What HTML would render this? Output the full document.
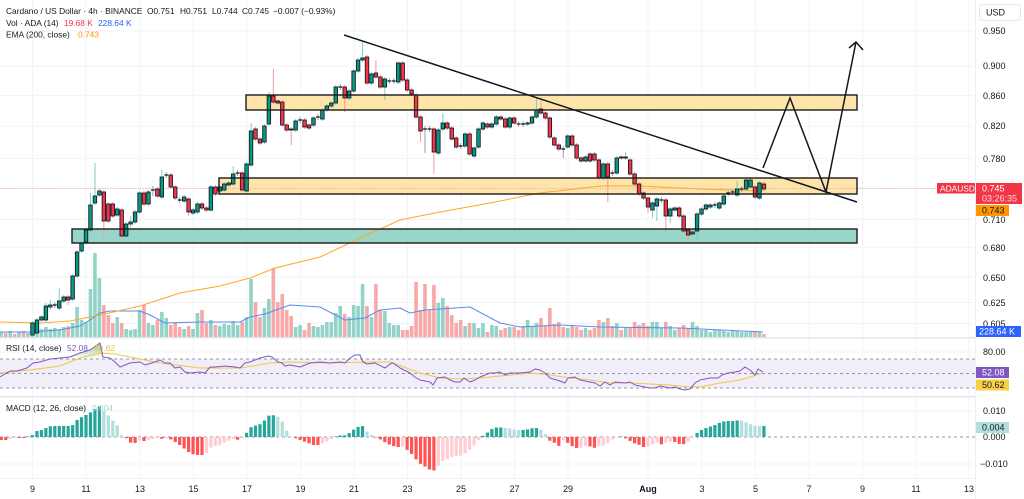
<!DOCTYPE html>
<html><head><meta charset="utf-8">
<style>
html,body{margin:0;padding:0;background:#fff;}
svg{display:block;font-family:"Liberation Sans",sans-serif;}
</style></head>
<body>
<svg id="s" width="1024" height="499" viewBox="0 0 1024 499" xmlns="http://www.w3.org/2000/svg">
<defs>
<clipPath id="cm"><rect x="0" y="0" width="975" height="337"/></clipPath>
<clipPath id="cr"><rect x="0" y="338" width="975" height="58"/></clipPath>
<clipPath id="cd"><rect x="0" y="397" width="975" height="81"/></clipPath>
<linearGradient id="ob" gradientUnits="userSpaceOnUse" x1="0" y1="343" x2="0" y2="359"><stop offset="0" stop-color="#4caf50" stop-opacity="0.6"/><stop offset="1" stop-color="#4caf50" stop-opacity="0"/></linearGradient>
</defs>
<rect x="0" y="0" width="1024" height="499" fill="#fff"/>
<g id="grid"></g>
<!-- box fills -->
<rect x="246" y="95" width="611" height="15" fill="#fde4a9"/>
<rect x="219" y="178" width="638" height="16" fill="#fde4a9"/>
<rect x="72" y="229" width="785" height="14" fill="#99d6ca"/>
<g id="vol" clip-path="url(#cm)"></g>
<g id="lines" clip-path="url(#cm)"></g>
<line x1="0" y1="188.5" x2="936" y2="188.5" stroke="#f4a0a7" stroke-width="1" stroke-dasharray="1 1.5"/>
<g id="cdl" clip-path="url(#cm)"></g>
<!-- box borders -->
<g fill="none" stroke="#1b1b1b" stroke-width="1.4">
<rect x="246" y="95" width="611" height="15"/>
<rect x="219" y="178" width="638" height="16"/>
<rect x="72" y="229" width="785" height="14"/>
</g>
<!-- trendline + projection -->
<g fill="none" stroke="#131722" stroke-width="1.5" stroke-linejoin="miter">
<line x1="344" y1="35" x2="857" y2="202"/>
<polyline points="763,168 790,98 826,192 856,42"/>
<polyline points="849,48 856,42 863,50"/>
</g>
<!-- RSI pane -->
<rect x="0" y="359" width="975" height="29" fill="#f1edf9"/>
<g id="rsi" clip-path="url(#cr)"></g>
<!-- MACD pane -->
<g id="macd" clip-path="url(#cd)"></g>
<!-- separators -->
<rect x="0" y="337" width="1024" height="1.5" fill="#e3e6ec"/>
<rect x="0" y="396" width="1024" height="1.5" fill="#e3e6ec"/>
<line x1="0" y1="478.5" x2="1024" y2="478.5" stroke="#eef0f4"/>
<rect x="975" y="0" width="49" height="499" fill="#fff"/>
<line x1="975.5" y1="0" x2="975.5" y2="499" stroke="#eef0f4"/>

<!-- header -->
<g font-size="8.4" fill="#131722">
<text x="6" y="14">Cardano / US Dollar · 4h · BINANCE</text>
<text x="147" y="14">O0.751</text>
<text x="180" y="14">H0.751</text>
<text x="212" y="14">L0.744</text>
<text x="242" y="14">C0.745</text>
<text x="273" y="14">−0.007 (−0.93%)</text>
<text x="6" y="26">Vol · ADA (14)</text>
<text x="64" y="26" fill="#f23645">19.68 K</text>
<text x="98" y="26" fill="#2962ff">228.64 K</text>
<text x="6" y="37.5">EMA (200, close)</text>
<text x="78" y="37.5" fill="#ff9800">0.743</text>
<text x="6" y="351">RSI (14, close)</text>
<text x="67" y="351" fill="#7e57c2">52.08</text>
<text x="94" y="351" fill="#e9c23a">50.62</text>
<text x="6" y="411">MACD (12, 26, close)</text>
<text x="92" y="411" fill="#9fd6cd">0.004</text>
</g>

<!-- right axis -->
<rect x="979.5" y="4.5" width="41" height="16" rx="3" fill="#fff" stroke="#e6e8ee"/>
<g font-size="9" fill="#131722">
<text x="986" y="15.5">USD</text>
<text x="983" y="34">0.950</text>
<text x="983" y="69">0.900</text>
<text x="983" y="99">0.860</text>
<text x="983" y="129">0.820</text>
<text x="983" y="162">0.780</text>
<text x="983" y="223">0.710</text>
<text x="983" y="251">0.680</text>
<text x="983" y="281">0.650</text>
<text x="983" y="306">0.625</text>
<text x="983" y="327">0.605</text>
<text x="983" y="355">80.00</text>
<text x="983" y="414">0.010</text>
<text x="983" y="440">0.000</text>
<text x="980" y="467">−0.010</text>
</g>
<rect x="937" y="183" width="38" height="10.5" fill="#f23645"/>
<text x="940" y="191.5" font-size="8.4" fill="#fff">ADAUSD</text>
<rect x="976" y="183" width="46" height="21" fill="#f23645"/>
<text x="982" y="191.5" font-size="9" fill="#fff">0.745</text>
<text x="982" y="201.5" font-size="9" fill="#ffd6da">03:26:35</text>
<rect x="976" y="205" width="33" height="11" fill="#ff9800"/>
<text x="982" y="213.5" font-size="9" fill="#131722">0.743</text>
<rect x="976" y="326" width="45" height="11" fill="#2962ff"/>
<text x="979" y="334.5" font-size="9" fill="#fff">228.64 K</text>
<rect x="976" y="367" width="33" height="11" fill="#7e57c2"/>
<text x="982" y="375.5" font-size="9" fill="#fff">52.08</text>
<rect x="976" y="379.5" width="33" height="11" fill="#f7d046"/>
<text x="982" y="388" font-size="9" fill="#131722">50.62</text>
<rect x="976" y="422" width="33" height="11" fill="#b2dfdb"/>
<text x="982" y="430.5" font-size="9" fill="#131722">0.004</text>

<!-- time axis -->
<g font-size="9" fill="#131722" text-anchor="middle">
<text x="32.5" y="492">9</text>
<text x="86" y="492">11</text>
<text x="140" y="492">13</text>
<text x="193.5" y="492">15</text>
<text x="247" y="492">17</text>
<text x="300.5" y="492">19</text>
<text x="354" y="492">21</text>
<text x="407.5" y="492">23</text>
<text x="461" y="492">25</text>
<text x="514.5" y="492">27</text>
<text x="568" y="492">29</text>
<text x="648" y="492" font-weight="bold">Aug</text>
<text x="702" y="492">3</text>
<text x="755.5" y="492">5</text>
<text x="809" y="492">7</text>
<text x="862.5" y="492">9</text>
<text x="916" y="492">11</text>
<text x="969" y="492">13</text>
</g>
</svg>
<script>
(function(){
var NS='http://www.w3.org/2000/svg';
function el(p,t,a){var e=document.createElementNS(NS,t);for(var k in a)e.setAttribute(k,a[k]);p.appendChild(e);return e;}
function $(id){return document.getElementById(id);}
var X0=32.5,DX=4.46;
function xi(i){return X0+i*DX;}

// grid
var g=$('grid');
var vx=[32.5,86,140,193.5,247,300.5,354,407.5,461,514.5,568,648,702,755.5,809,862.5,916,969];
vx.forEach(function(x){el(g,'line',{x1:x,y1:0,x2:x,y2:478,stroke:'#f1f3f7','stroke-width':1});});
[31,66,95.4,126.2,158.6,188.3,219.4,247.3,277,302.5,323.5,352,411,464].forEach(function(y){el(g,'line',{x1:0,y1:y,x2:975,y2:y,stroke:'#f1f3f7','stroke-width':1});});

var K=[
['g',323,335,321,337],['g',320,333],['g',317,320],['g',306,320,303],['g',305,307,300,310],['d',305],['g',301,308,288],['g',297,301],['r',297,300,null,305],['g',276,299],
['g',252,276],['g',243,251],['g',230,242],['g',205,230,193],['g',196,203,163],['g',191,195],['r',192,221,null,236],['r',204,221],['r',204,216],['g',209,215],
['r',210,236],['g',224,236],['g',222,224,216,228],['g',212,222],['g',193,212],['r',193,204],['g',192,204],['d',190,186,196],['r',189,196],['g',177,197,170],
['d',175],['r',175,187],['r',187,198],['d',200],['g',197,201],['r',199,212,null,216],['g',210,213],['g',204,212],['r',204,208],['r',208,210],
['g',187,210],['r',187,194],['g',187,191],['g',184,190],['g',183,185],['g',174,184,166],['d',173],['r',173,190],['g',164,191],['g',131,165,123],
['r',129,139],['r',139,143],['g',126,142],['g',96,124,92],['r',96,102,69],['r',101,103],['r',102,125],['r',125,130],['r',129,130,null,145],['g',121,130],
['d',120],['r',120,127],['r',125,128],['g',118,125],['d',117],['g',110,119],['g',106,110],['g',103,106],['g',87,103],['d',87],
['r',87,98,null,112],['g',91,98],['g',71,91],['g',60,71],['g',58,60,42],['r',57,83],['g',74,83],['r',73,77,60],['r',77,87],['g',79,87,null,100],
['d',81],['d',81],['g',63,82],['r',63,80],['r',80,90],['r',90,94],['r',95,117],['r',117,131,null,142],['d',129,null,153],['d',129],
['r',129,152,null,174],['g',130,153],['g',123,129,113],['r',123,128],['r',128,139],['r',138,147],['d',146],['g',134,146],['r',134,154],['g',148,156],
['g',129,147],['g',123,129],['r',124,127],['g',124,127],['g',117,124],['r',117,119],['r',119,127],['g',118,127],['r',118,123],['d',124],
['d',124],['g',123,124],['g',117,123],['g',110,117,98],['r',109,113,98],['r',113,118],['r',118,137],['r',138,145],['r',145,149],['d',149,null,158],
['g',136,147],['r',136,145],['r',145,158],['r',158,161],['g',157,161],['r',154,161],['r',154,160],['r',160,178],['g',164,178],['r',164,177,null,202],
['d',173],['g',158,173],['r',157,158],['g',157,158,152],['r',160,174],['r',174,184],['r',184,194],['r',193,198],['r',198,207,null,213],['g',203,210,null,218],
['g',199,206,null,221],['d',200],['r',200,216,null,232],['g',209,216,null,223],['g',208,210],['r',208,216],['r',216,231],['r',230,235,null,243],['g',232,234],['g',214,231,null,240],
['g',209,214],['g',205,209],['g',205,207],['d',205],['g',203,208],['g',196,204],['d',193],['d',192],['g',189,195,181],['d',189],
['g',180,189],['g',180,187,177],['r',187,197],['g',183,198],['r',184,189]
];
var V=[12,12,8,10,8,9,8,10,11,14,
30,17,15,48,84,59,32,22,14,20,
14,8,7,8,27,32,14,12,17,25,
19,12,15,10,8,11,8,24,27,14,
17,12,11,13,12,16,12,15,20,58,
35,20,29,38,69,35,43,27,21,10,
12,7,14,11,10,12,15,15,24,31,
23,20,32,31,53,31,20,53,27,26,
14,12,12,7,7,11,55,27,53,27,
52,34,39,31,22,14,17,11,14,14,
9,14,5,12,11,7,9,10,10,7,
11,17,11,14,19,11,29,13,15,10,
9,12,10,7,9,7,9,17,15,19,
11,14,7,9,10,15,12,14,11,15,
15,9,15,11,7,9,12,9,15,11,
7,7,5,7,7,6,5,6,6,5,
5,5,6,5,3];
var pre=[5,4,6,3,5,6,4],prc=['g','r','g','r','g','r','g'];

// volume
var vg=$('vol');
function vbar(i,h,t){var x=xi(i);el(vg,'rect',{x:(x-1.8).toFixed(2),y:337-h,width:3.6,height:h,fill:t==='r'?'#f7a9a9':'#93d2c7'});}
for(var j=0;j<7;j++)vbar(j-7,pre[j],prc[j]);
var last='g';
for(var i=0;i<K.length;i++){var t=K[i][0];if(t==='d')t=last;else last=t;vbar(i,V[i]||5,t);}

// lines
function poly(p,pts,col,w){el(p,'polyline',{points:pts.map(function(q){return q[0]+','+q[1];}).join(' '),fill:'none',stroke:col,'stroke-width':w||1,'stroke-linejoin':'round'});}
var lg=$('lines');
poly(lg,[[0,332],[30,332],[60,330],[80,326],[90,320],[100,313],[110,311],[140,311],[150,315],[165,323],[200,322],[240,322],[250,317],[265,314],[290,305],[320,307],[345,320],[365,318],[380,310],[400,308],[410,313],[425,310],[470,307],[485,315],[500,323],[520,327],[560,325],[600,327],[680,328],[763,332]],'#5b8def',1);
poly(lg,[[0,322],[40,323],[70,321],[100,315],[140,306],[180,293],[220,286],[250,278],[275,268],[320,257],[350,243],[380,229],[400,220],[440,212],[490,203],[540,193],[600,186],[640,186],[700,189],[763,191]],'#ffa726',1);

// candles
var cg=$('cdl');
for(var i=0;i<K.length;i++){
 var k=K[i],x=xi(i);
 if(k[0]==='d'){
  var y=k[1],wt=(k[2]!=null?k[2]:y-3),wb=(k[3]!=null?k[3]:y+3);
  el(cg,'line',{x1:x,y1:wt,x2:x,y2:wb,stroke:'#9aa0a8','stroke-width':1});
  el(cg,'line',{x1:x-1.9,y1:y,x2:x+1.9,y2:y,stroke:'#131722','stroke-width':1.3});
 } else {
  var top=k[1],bot=k[2],wt=(k[3]!=null?k[3]:top-2),wb=(k[4]!=null?k[4]:bot+2);
  var up=k[0]==='g';
  el(cg,'line',{x1:x,y1:wt,x2:x,y2:wb,stroke:up?'#7fcfbe':'#f29aa1','stroke-width':1});
  el(cg,'rect',{x:(x-1.75).toFixed(2),y:top,width:3.5,height:Math.max(bot-top,1),fill:up?'#089981':'#f23645',stroke:'#131722','stroke-width':0.85});
 }
}

// RSI
var rg=$('rsi');
[359,373.5,388].forEach(function(y){el(rg,'line',{x1:0,y1:y,x2:975,y2:y,stroke:'#9598a1','stroke-width':1,'stroke-dasharray':'3 3'});});
var R=[[0,377],[10,371],[17,371],[27,368],[33,363],[40,362],[50,359],[60,358],[70,357],[80,353],[90,350],[100,343],[103,357],[110,358],[115,362],[120,367],[130,363],[140,362],[145,365],[155,362],[160,360],[165,363],[170,363],[175,368],[180,367],[185,372],[190,373],[200,372],[205,373],[210,367],[215,367],[225,366],[235,367],[240,368],[245,363],[250,362],[260,358],[268,356],[272,357],[278,362],[282,363],[285,366],[290,365],[300,367],[310,363],[320,362],[330,363],[340,362],[345,363],[350,358],[355,355],[360,355],[363,362],[367,364],[375,363],[385,368],[390,364],[393,363],[400,368],[410,373],[415,377],[420,380],[430,382],[433,385],[437,378],[445,377],[450,380],[455,382],[460,382],[464,378],[470,382],[475,380],[480,377],[490,373],[495,373],[500,372],[505,375],[510,373],[520,373],[530,372],[535,369],[540,370],[545,373],[550,378],[560,381],[565,383],[568,378],[575,377],[580,380],[590,382],[595,383],[600,386],[605,382],[610,385],[615,382],[625,383],[630,382],[635,385],[645,387],[650,388],[655,388],[660,386],[665,387],[670,388],[675,387],[680,389],[685,390],[690,389],[695,383],[700,380],[710,378],[718,378],[722,375],[728,373],[735,372],[740,371],[745,367],[750,370],[755,375],[758,369],[763,372]];
el(rg,'polygon',{points:'48,359 50,359 60,358 70,357 80,353 90,350 100,343 103,357 104,359',fill:'url(#ob)'});
poly(rg,[[0,373],[30,370],[60,366],[80,358],[100,353],[115,354],[130,357],[160,363],[200,368],[240,368],[270,363],[290,362],[330,363],[365,362],[390,362],[420,373],[440,378],[460,379],[480,378],[500,376],[530,373],[550,375],[570,378],[590,380],[610,383],[630,383],[650,384],[670,385],[690,387],[700,387],[720,383],[740,380],[763,373]],'#f0c842',1);
poly(rg,R,'#7e57c2',1);

// MACD
var mg=$('macd');
el(mg,'line',{x1:0,y1:437,x2:975,y2:437,stroke:'#9598a1','stroke-width':1,'stroke-dasharray':'3 3'});
var M=[[0,-3],[8,-3],[12,-1],[25,-1],[29,1],[33,2],[37,6],[42,7],[46,9],[51,11],[55,11],[69,11],[73,12],[77,17],[82,20],[86,22],[91,25],[95,28],[100,31],[104,26],[109,21],[113,16],[118,11],[122,1],[126,-1],[131,-6],[137,-6],[140,-3],[144,-4],[149,-3],[158,-1],[163,-2],[168,-1],[172,-3],[177,-6],[181,-9],[186,-13],[190,-16],[195,-18],[205,-18],[210,-11],[215,-9],[220,-8],[224,-6],[228,-4],[233,-2],[240,-3],[245,1],[249,9],[254,11],[258,12],[263,14],[267,21],[272,22],[277,21],[282,16],[285,9],[290,1],[295,-1],[303,-4],[308,-6],[313,-8],[318,-8],[323,-6],[328,-4],[333,-1],[338,2],[343,1],[348,3],[353,7],[358,10],[363,11],[368,4],[373,1],[378,-1],[383,-4],[388,-7],[393,-9],[398,-10],[402,-9],[406,-12],[410,-15],[415,-21],[419,-26],[424,-29],[428,-31],[432,-35],[437,-31],[441,-25],[445,-23],[450,-21],[454,-19],[459,-19],[463,-18],[468,-14],[472,-11],[476,-6],[481,0],[486,3],[490,7],[494,9],[499,10],[503,9],[508,9],[512,8],[516,7],[520,7],[525,7],[529,8],[533,9],[537,9],[542,7],[546,2],[550,-4],[555,-6],[559,-9],[563,-3],[568,-6],[572,-9],[576,-11],[580,-11],[585,-9],[589,-9],[594,-11],[598,-9],[602,-9],[607,-7],[611,-3],[616,-1],[620,1],[625,-1],[629,-3],[633,-6],[638,-7],[642,-10],[647,-10],[651,-9],[655,-4],[660,-8],[664,-6],[669,-5],[673,-4],[677,-6],[682,-8],[686,-6],[691,-3],[695,2],[699,6],[704,8],[708,10],[713,11],[717,13],[721,15],[726,16],[730,16],[735,16],[739,17],[743,16],[748,14],[752,12],[757,11],[765,11]];
function interp(x){if(x<=M[0][0])return M[0][1];for(var j=1;j<M.length;j++){if(x<=M[j][0]){var a=M[j-1],b=M[j];return a[1]+(b[1]-a[1])*(x-a[0])/(b[0]-a[0]);}}return M[M.length-1][1];}
var prev=0;
for(var i=-7;i<K.length;i++){
 var x=xi(i),h=interp(x),col;
 if(h>=0)col=(h>=prev?'#26a69a':'#b2dfdb');else col=(h<=prev?'#ff5252':'#ffcdd2');
 prev=h;
 var ah=Math.max(Math.abs(h),0.6);
 el(mg,'rect',{x:(x-1.6).toFixed(2),y:h>=0?437-ah:437,width:3.2,height:ah,fill:col});
}
})();
</script>
</body></html>
